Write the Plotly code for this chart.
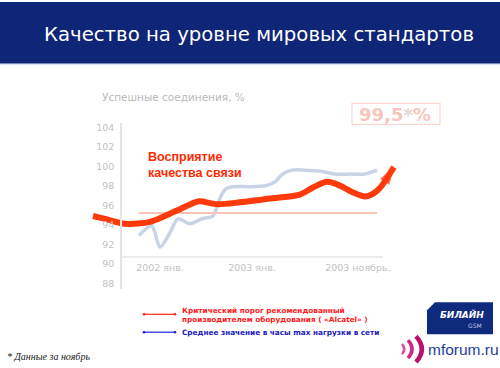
import plotly.graph_objects as go

# ---------------- data ----------------
# x in months from Jan 2002
red_x = [-8.74, -7.17, -4.56, -1.3, 0.65, 2.6, 4.56, 5.2, 7.56, 10.4, 13.4, 15.6, 18.25,
         19.9, 21.8, 23.5, 25.2, 26.7, 27.8, 28.7, 29.6, 30.5]
red_y = [94.9, 94.6, 94.1, 94.3, 94.9, 95.6, 96.3, 96.4, 96.1, 96.3, 96.6, 96.8, 97.1,
         97.8, 98.4, 98.0, 97.3, 96.9, 97.2, 97.8, 98.8, 99.9]

blue_x = [-2.74, -1.08, 0.0, 1.17, 2.35, 3.9, 5.44, 6.9, 7.7, 8.47, 9.4, 11.7, 13.7,
          15.0, 16.0, 17.2, 18.9, 20.9, 22.8, 24.8, 26.7, 28.3]
blue_y = [92.9, 93.9, 91.7, 93.0, 94.6, 94.1, 94.6, 94.9, 96.5, 97.6, 97.9, 97.9, 98.0,
          98.4, 99.2, 99.6, 99.6, 99.5, 99.2, 99.2, 99.2, 99.6]

thr_x = [-2.74, 28.3]
thr_y = [95.2, 95.2]

y_ticks = [88, 90, 92, 94, 96, 98, 100, 102, 104]
x_tickvals = [0, 12, 25.8]
x_ticktext = ["2002 янв.", "2003 янв.", "2003 ноябрь."]

W, H = 500, 368

def px(v):
    return v / W

def py(v):
    return 1 - v / H

fig = go.Figure()

fig.add_trace(go.Scatter(x=blue_x, y=blue_y, mode="lines",
                         line=dict(color="#C9D3E6", width=3.5, shape="spline", smoothing=0.8),
                         hoverinfo="skip", showlegend=False))
fig.add_trace(go.Scatter(x=thr_x, y=thr_y, mode="lines",
                         line=dict(color="#F9C3B6", width=2),
                         hoverinfo="skip", showlegend=False))
sizes = [0] * (len(red_x) - 1) + [18]
fig.add_trace(go.Scatter(x=red_x, y=red_y, mode="lines+markers",
                         line=dict(color="#FF3A0A", width=6, shape="spline", smoothing=0.8),
                         marker=dict(symbol="arrow", angleref="previous", size=sizes,
                                     color="#FF3A0A", line=dict(width=0)),
                         hoverinfo="skip", showlegend=False))

shapes = []
# header band
shapes.append(dict(type="rect", xref="paper", yref="paper", x0=0, x1=1, y0=py(62), y1=1,
                   fillcolor="#0F2577", line=dict(width=0), layer="below"))
shapes.append(dict(type="line", xref="paper", yref="paper", x0=0, x1=1, y0=py(62.5), y1=py(62.5),
                   line=dict(color="#C8D8F0", width=1)))
# x axis baseline
shapes.append(dict(type="line", xref="x", yref="y", x0=-5.08, x1=29.07, y0=90.7, y1=90.7,
                   line=dict(color="#E4E4E4", width=1.5), layer="below"))
# value box
shapes.append(dict(type="rect", xref="paper", yref="paper", x0=px(352), x1=px(440),
                   y0=py(123), y1=py(102), line=dict(color="#FAD8D0", width=1.2),
                   fillcolor="white"))
# legend lines
shapes.append(dict(type="line", xref="paper", yref="paper", x0=px(144), x1=px(175),
                   y0=py(314), y1=py(314), line=dict(color="#FF2020", width=1.2)))
shapes.append(dict(type="line", xref="paper", yref="paper", x0=px(144), x1=px(175),
                   y0=py(332), y1=py(332), line=dict(color="#2020D0", width=1.2)))
for xx, yy, c in [(144, 314, "#FF2020"), (175, 314, "#FF2020"),
                  (144, 332, "#2020D0"), (175, 332, "#2020D0")]:
    shapes.append(dict(type="circle", xref="paper", yref="paper",
                       x0=px(xx - 1.3), x1=px(xx + 1.3), y0=py(yy + 1.3), y1=py(yy - 1.3),
                       fillcolor=c, line=dict(width=0)))
# Beeline logo box (cut corner)
bx0, bx1, by0, by1 = 427, 493, 302, 334
path = (f"M {px(bx0+8)},{py(by0)} L {px(bx1)},{py(by0)} L {px(bx1)},{py(by1)} "
        f"L {px(bx0)},{py(by1)} L {px(bx0)},{py(by0+8)} Z")
shapes.append(dict(type="path", xref="paper", yref="paper", path=path,
                   fillcolor="#102A7E", line=dict(width=0)))
# mforum arcs
for cx, r, w, col in [(402, 5, 2.5, "#E04A9A"), (408, 9, 3.5, "#D02A85"), (416, 13, 4.5, "#B8106E")]:
    cy = 349
    path = (f"M {px(cx)},{py(cy - r)} Q {px(cx + r*0.9)},{py(cy)} {px(cx)},{py(cy + r)}")
    shapes.append(dict(type="path", xref="paper", yref="paper", path=path,
                       line=dict(color=col, width=w)))

annotations = []
annotations.append(dict(xref="paper", yref="paper", x=px(42), y=py(33), xanchor="left",
                        yanchor="middle", showarrow=False,
                        text="Качество на уровне мировых стандартов",
                        font=dict(family="DejaVu Sans", size=19.7, color="white")))
annotations.append(dict(xref="paper", yref="paper", x=px(100), y=py(96), xanchor="left",
                        yanchor="middle", showarrow=False, text="Успешные соединения, %",
                        font=dict(family="DejaVu Sans", size=10.5, color="#B9B9B9")))
annotations.append(dict(xref="paper", yref="paper", x=px(146), y=py(164), xanchor="left",
                        yanchor="middle", showarrow=False, align="left",
                        text="<b>Восприятие<br>качества связи</b>",
                        font=dict(family="Liberation Sans", size=12.5, color="#FF2A00")))
annotations.append(dict(xref="paper", yref="paper", x=px(395), y=py(113), xanchor="center",
                        yanchor="middle", showarrow=False,
                        text="<b>99,5<span style='color:#E9D4D4'>*</span>%</b>",
                        font=dict(family="DejaVu Sans", size=18, color="#F8C6BC")))
annotations.append(dict(xref="paper", yref="paper", x=px(180), y=py(315), xanchor="left",
                        yanchor="middle", showarrow=False, align="left",
                        text="<b>Критический порог рекомендованный<br>производителем оборудования ( «Alcatel» )</b>",
                        font=dict(family="DejaVu Sans", size=7.3, color="#FF1A1A")))
annotations.append(dict(xref="paper", yref="paper", x=px(180), y=py(332), xanchor="left",
                        yanchor="middle", showarrow=False, align="left",
                        text="<b>Среднее значение в часы max нагрузки в сети</b>",
                        font=dict(family="DejaVu Sans", size=7.3, color="#2020C0")))
annotations.append(dict(xref="paper", yref="paper", x=px(5), y=py(356), xanchor="left",
                        yanchor="middle", showarrow=False, text="<i>* Данные за ноябрь</i>",
                        font=dict(family="Liberation Serif", size=10, color="#202020")))
annotations.append(dict(xref="paper", yref="paper", x=px(462), y=py(314), xanchor="center",
                        yanchor="middle", showarrow=False, text="<b><i>БИЛАЙН</i></b>",
                        font=dict(family="DejaVu Sans", size=9, color="white")))
annotations.append(dict(xref="paper", yref="paper", x=px(475), y=py(325), xanchor="center",
                        yanchor="middle", showarrow=False, text="GSM",
                        font=dict(family="DejaVu Sans", size=6, color="#C0C8E0")))
annotations.append(dict(xref="paper", yref="paper", x=px(426), y=py(349), xanchor="left",
                        yanchor="middle", showarrow=False, text="mforum.ru",
                        font=dict(family="Liberation Sans", size=15.5, color="#1E3C9C")))

fig.update_layout(
    width=W, height=H,
    margin=dict(l=0, r=0, t=0, b=0),
    paper_bgcolor="white", plot_bgcolor="rgba(0,0,0,0)",
    shapes=shapes, annotations=annotations,
    xaxis=dict(domain=[px(90.97), px(401.6)], range=[-9, 31.5], anchor="free",
               position=py(256), showgrid=False, zeroline=False, showline=False,
               tickvals=x_tickvals, ticktext=x_ticktext, ticks="outside", ticklen=2,
               tickcolor="rgba(0,0,0,0)",
               tickfont=dict(family="DejaVu Sans", size=9.5, color="#C2C2C2")),
    yaxis=dict(domain=[py(288.7), py(122)], range=[87.4, 104.4], anchor="free",
               position=px(121), showgrid=False, zeroline=False, showline=True,
               linecolor="#E4E4E4", linewidth=1.5, tickvals=y_ticks,
               ticks="outside", ticklen=4, tickcolor="rgba(0,0,0,0)",
               tickfont=dict(family="DejaVu Sans", size=9.5, color="#C2C2C2")),
)

fig.write_html("out.html", config={"displayModeBar": False})

# remove default page margin so the figure sits at the window's top-left corner
with open("out.html", "r", encoding="utf-8") as f:
    html = f.read()
html = html.replace("<head>", "<head><style>html,body{margin:0;padding:0;overflow:hidden;}</style>", 1)
with open("out.html", "w", encoding="utf-8") as f:
    f.write(html)
